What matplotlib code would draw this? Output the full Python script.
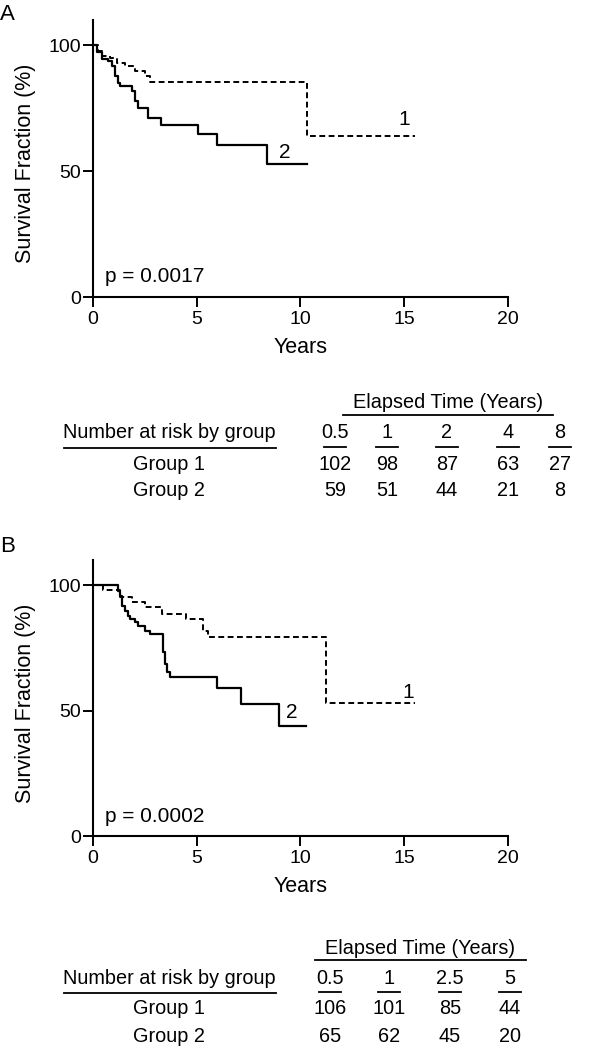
import matplotlib
matplotlib.use("Agg")
import matplotlib.pyplot as plt
from matplotlib.lines import Line2D

plt.rcParams["font.family"] = ["Liberation Sans", "DejaVu Sans"]

W, H = 605, 1050

# Panel A: Kaplan-Meier steps (years, survival %)
a1_t = [0, 0.27, 0.43, 0.83, 1.15, 1.55, 2.03, 2.51, 2.75, 10.3, 15.5]
a1_s = [100, 97.7, 95.7, 95.1, 93.1, 91.8, 89.8, 87.8, 85.5, 64.1, 64.1]
a2_t = [0, 0.19, 0.43, 0.75, 0.91, 1.07, 1.23, 1.31, 1.87, 2.03, 2.19, 2.67,
        3.27, 5.08, 6.0, 8.41, 10.3]
a2_s = [100, 97.1, 94.4, 93.7, 91.8, 87.8, 85.1, 83.8, 81.8, 77.8, 75.2, 71.2,
        68.5, 64.8, 60.3, 52.9, 52.9]

# Panel B
b1_t = [0, 0.51, 1.3, 1.9, 2.5, 3.35, 4.5, 5.3, 5.55, 11.22, 15.5]
b1_s = [100, 98.0, 95.1, 93.1, 91.4, 88.7, 86.5, 81.9, 79.2, 53.0, 53.0]
b2_t = [0, 1.23, 1.31, 1.39, 1.55, 1.71, 1.79, 2.03, 2.19, 2.51, 2.75, 3.37,
        3.48, 3.59, 3.72, 5.99, 7.13, 8.97, 10.29]
b2_s = [100, 97.8, 95.8, 91.8, 89.8, 87.8, 86.5, 85.2, 83.8, 81.9, 80.6, 73.3,
        68.6, 65.5, 63.3, 59.1, 52.6, 43.8, 43.8]

a_pval = "p = 0.0017"
b_pval = "p = 0.0002"

# number-at-risk tables
a_times = ["0.5", "1", "2", "4", "8"]
a_g1 = [102, 98, 87, 63, 27]
a_g2 = [59, 51, 44, 21, 8]
b_times = ["0.5", "1", "2.5", "5"]
b_g1 = [106, 101, 85, 44]
b_g2 = [65, 62, 45, 20]


def fx(px):
    return px / W


def fy(py):
    return 1 - py / H


def km_panel(ax, t1, s1, t2, s2, pval, lab1, lab2, height_px):
    ax.step(t1, s1, where="post", color="black", lw=1.4, ls=(0, (3, 1.8)))
    ax.step(t2, s2, where="post", color="black", lw=1.6)
    ax.set_xlim(0, 20)
    ax.set_ylim(0, 110)
    ax.set_xticks([0, 5, 10, 15, 20])
    ax.set_yticks([0, 50, 100])
    for s in ["top", "right"]:
        ax.spines[s].set_visible(False)
    for s in ["left", "bottom"]:
        ax.spines[s].set_linewidth(1.5)
    ax.tick_params(direction="out", length=7, width=1.4, labelsize=14)
    ax.tick_params(axis="x", pad=3)
    ax.tick_params(axis="y", pad=1.5)
    ax.set_xlabel("Years", fontsize=15.5, va="center")
    ax.xaxis.set_label_coords(0.5, -50 / height_px)
    ax.set_ylabel("Survival Fraction (%)", fontsize=15.5, va="center")
    ax.yaxis.set_label_coords((26 - 92.7) / 415.3, 53 / 110)
    ax.text(0.6, 8, pval, fontsize=15, va="center")
    ax.text(lab1[0], lab1[1], "1", fontsize=15, ha="center", va="center")
    ax.text(lab2[0], lab2[1], "2", fontsize=15, ha="center", va="center")


def hline(fig, x0, x1, y, lw=1.3):
    fig.add_artist(Line2D([fx(x0), fx(x1)], [fy(y), fy(y)],
                          transform=fig.transFigure, color="black", lw=lw))


def risk_table(fig, top, cols, times, g1, g2, span):
    fs = 14.3
    # "Elapsed Time (Years)" header
    fig.text(fx((span[0] + span[1]) / 2), fy(top), "Elapsed Time (Years)",
             fontsize=fs, ha="center", va="center")
    hline(fig, span[0], span[1], top + 12)
    hy = top + 30
    fig.text(fx(169), fy(hy), "Number at risk by group", fontsize=fs,
             ha="center", va="center")
    hline(fig, 64, 276, hy + 15)
    for c, t, v1, v2 in zip(cols, times, g1, g2):
        fig.text(fx(c), fy(hy), t, fontsize=fs, ha="center", va="center")
        hline(fig, c - 11, c + 11, hy + 14)
        fig.text(fx(c), fy(hy + 31), str(v1), fontsize=fs, ha="center",
                 va="center")
        fig.text(fx(c), fy(hy + 58), str(v2), fontsize=fs, ha="center",
                 va="center")
    fig.text(fx(169), fy(hy + 31), "Group 1", fontsize=fs, ha="center",
             va="center")
    fig.text(fx(169), fy(hy + 58), "Group 2", fontsize=fs, ha="center",
             va="center")


fig = plt.figure(figsize=(W / 100, H / 100), dpi=100)

ax_a = fig.add_axes([fx(92.7), fy(297), (508 - 92.7) / W, (297 - 20) / H])
km_panel(ax_a, a1_t, a1_s, a2_t, a2_s, a_pval, (15.0, 70.5), (9.25, 57.4),
         277)

ax_b = fig.add_axes([fx(92.7), fy(836.3), (508 - 92.7) / W, (836.3 - 560) / H])
km_panel(ax_b, b1_t, b1_s, b2_t, b2_s, b_pval, (15.2, 57.4), (9.57, 49.4),
         276.3)

fig.text(fx(0), fy(14), "A", fontsize=16, ha="left", va="center")
fig.text(fx(0), fy(546), "B", fontsize=16, ha="left", va="center")

risk_table(fig, 403, [335, 387, 447, 508, 560], a_times, a_g1, a_g2,
           (343, 553))
risk_table(fig, 948, [330, 389, 450, 510], b_times, b_g1, b_g2, (315, 526))

fig.savefig("out.png", dpi=100)
